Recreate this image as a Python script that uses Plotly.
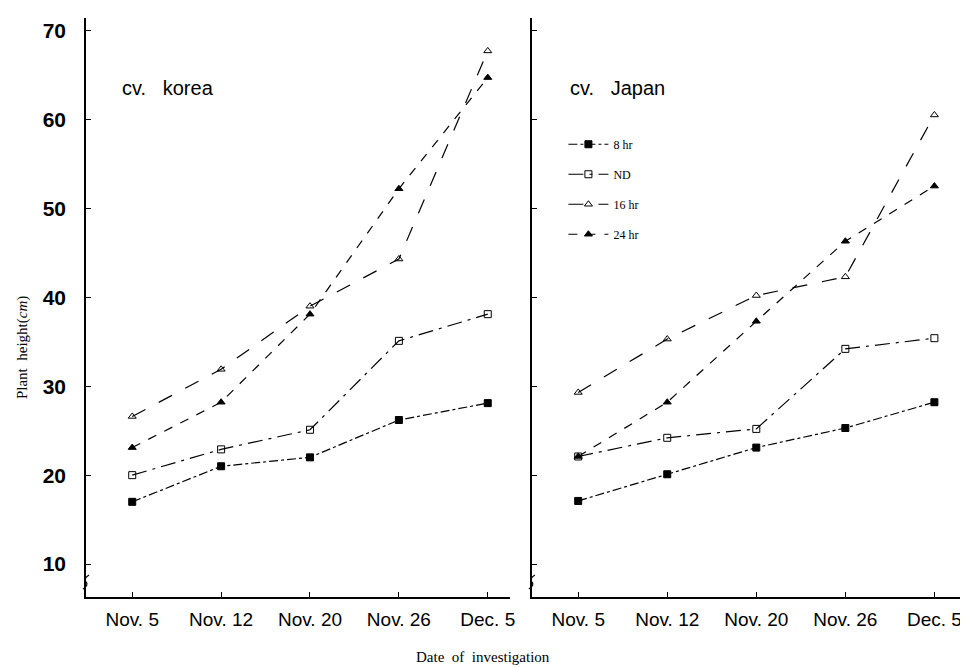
import plotly.graph_objects as go
from plotly.subplots import make_subplots

dates = ["Nov. 5", "Nov. 12", "Nov. 20", "Nov. 26", "Dec. 5"]
y_ticks = [10, 20, 30, 40, 50, 60, 70]

korea_8hr = [17.0, 21.0, 22.0, 26.2, 28.1]
korea_nd = [20.0, 22.9, 25.1, 35.1, 38.1]
korea_16hr = [26.6, 31.9, 39.0, 44.3, 67.7]
korea_24hr = [23.1, 28.2, 38.1, 52.2, 64.7]

japan_8hr = [17.1, 20.1, 23.1, 25.3, 28.2]
japan_nd = [22.1, 24.2, 25.2, 34.2, 35.4]
japan_16hr = [29.3, 35.3, 40.2, 42.3, 60.5]
japan_24hr = [22.1, 28.2, 37.3, 46.3, 52.5]

series_names = ["8 hr", "ND", "16 hr", "24 hr"]
markers = ["square", "square-open", "triangle-up-open", "triangle-up"]
dashes = ["dashdot", "longdashdot", "longdash", "dash"]

fig = make_subplots(rows=1, cols=2, horizontal_spacing=0.025)

for col, data in [(1, [korea_8hr, korea_nd, korea_16hr, korea_24hr]),
                  (2, [japan_8hr, japan_nd, japan_16hr, japan_24hr])]:
    for i, (name, vals) in enumerate(zip(series_names, data)):
        fig.add_trace(go.Scatter(
            x=dates, y=vals, name=name, mode="lines+markers",
            legendgroup=name, showlegend=(col == 2),
            line=dict(color="black", width=1.2, dash=dashes[i]),
            marker=dict(symbol=markers[i], size=7, color="black",
                        line=dict(color="black", width=1)),
        ), row=1, col=col)

# page body has 8px margin; plot area on screen x 86..962, y 18..597
fig.update_layout(
    width=960, height=659,
    margin=dict(l=78, r=6, t=10, b=70, autoexpand=False),
    paper_bgcolor="white", plot_bgcolor="white",
    font=dict(family="Liberation Sans", color="black"),
    legend=dict(x=0.545, y=0.807, xanchor="left", yanchor="top",
                bgcolor="rgba(0,0,0,0)", tracegroupgap=11,
                font=dict(family="Liberation Serif", size=12, color="black"),
                itemwidth=40),
)

fig.update_xaxes(
    domain=[0, 0.484], range=[-0.52, 4.25], row=1, col=1)
fig.update_xaxes(
    domain=[0.509, 1.0], range=[-0.52, 4.31], row=1, col=2)
fig.update_xaxes(
    type="category", categoryorder="array", categoryarray=dates,
    showgrid=False, zeroline=False, showline=True, linecolor="black",
    linewidth=1.5, ticks="inside", ticklen=5, tickcolor="black",
    tickfont=dict(family="Liberation Sans", size=19, color="black"),
    ticklabelstandoff=4, automargin=False,
)
fig.update_yaxes(
    range=[6.3, 71.4], tickvals=y_ticks, showgrid=False, zeroline=False,
    showline=True, linecolor="black", linewidth=1.5, ticks="inside",
    ticklen=5, tickcolor="black", automargin=False,
)
fig.update_yaxes(
    tickfont=dict(family="Liberation Sans", size=21, color="black"),
    ticktext=[f"<b>{v}</b>" for v in y_ticks], ticklabelstandoff=14,
    row=1, col=1)
fig.update_yaxes(showticklabels=False, row=1, col=2)

# panel titles
fig.add_annotation(text="cv.   korea", xref="x domain", yref="y domain",
                   x=0.08, y=0.879, xanchor="left", yanchor="middle",
                   showarrow=False,
                   font=dict(family="Liberation Sans", size=20), row=1, col=1)
fig.add_annotation(text="cv.   Japan", xref="x domain", yref="y domain",
                   x=0.084, y=0.879, xanchor="left", yanchor="middle",
                   showarrow=False,
                   font=dict(family="Liberation Sans", size=20), row=1, col=2)

# axis titles
fig.add_annotation(text="Plant  height(<i>cm</i>)", xref="paper", yref="paper",
                   x=-0.073, y=0.43, xanchor="center", yanchor="middle",
                   textangle=-90, showarrow=False,
                   font=dict(family="Liberation Serif", size=15))
fig.add_annotation(text="Date  of  investigation", xref="paper", yref="paper",
                   x=0.453, y=-0.1036, xanchor="center", yanchor="middle",
                   showarrow=False,
                   font=dict(family="Liberation Serif", size=15))

# axis break marks
for xr, yr in [("x domain", "y domain"), ("x2 domain", "y2 domain")]:
    w = 424 if xr == "x domain" else 430
    def px(dx):
        return dx / w
    def py(dy):
        return dy / 579
    path = (f"M {px(-3)},{py(8)} Q {px(3)},{py(12)} {px(0)},{py(15)} "
            f"T {px(3)},{py(22)}")
    fig.add_shape(type="path", path=path, xref=xr, yref=yr,
                  line=dict(color="black", width=1.2))

fig.write_html("out.html")
